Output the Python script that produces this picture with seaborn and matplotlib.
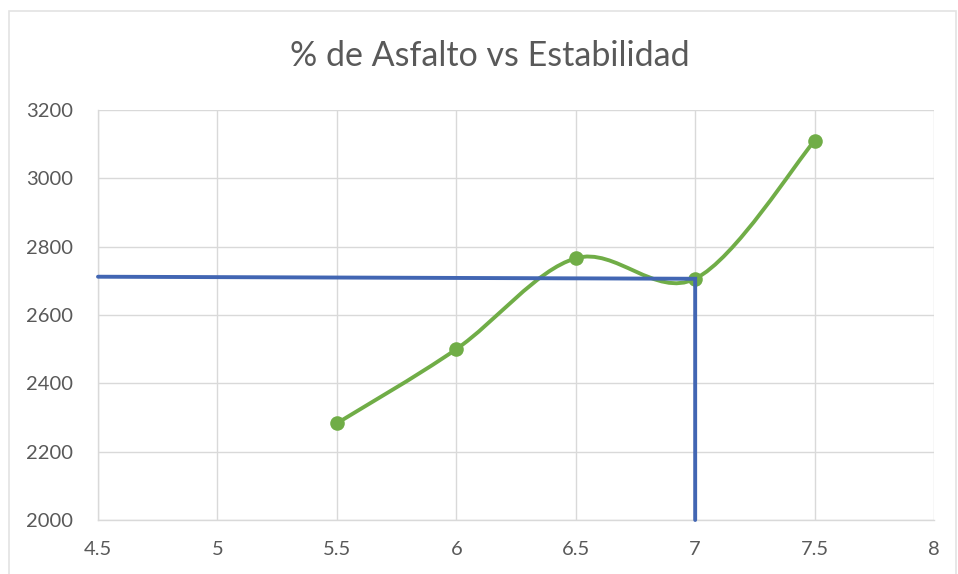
import numpy as np
import matplotlib
matplotlib.use("Agg")
import matplotlib.pyplot as plt
from matplotlib.path import Path
from matplotlib.patches import PathPatch, Rectangle
import seaborn as sns
import pandas as pd

# Asphalt content (%) and Marshall stability
asfalto = [5.5, 6.0, 6.5, 7.0, 7.5]
estabilidad = [2283, 2500, 2766, 2706, 3110]

# Design read-off lines: optimum asphalt content and its stability
guia_x = [4.5, 7.0, 7.0]
guia_y = [2712, 2706, 2000]

x_ticks = [4.5, 5, 5.5, 6, 6.5, 7, 7.5, 8]
x_labels = ["4.5", "5", "5.5", "6", "6.5", "7", "7.5", "8"]
y_ticks = [2000, 2200, 2400, 2600, 2800, 3000, 3200]

titulo = "% de Asfalto vs Estabilidad"

VERDE = "#70AD47"
AZUL = "#4266B3"
GRIS_TXT = "#595959"
GRIS_GRID = "#D9D9D9"

sns.set_theme(style="whitegrid")
plt.rcParams["font.family"] = ["Lato", "DejaVu Sans"]

fig = plt.figure(figsize=(9.58, 5.74), dpi=100)
ax = fig.add_axes([0.1023, 0.0941, 0.8727, 0.7143])

# light frame around the chart area
fig.patches.append(Rectangle((9 / 958, -0.05), 947 / 958, 1 - 11 / 574 + 0.05,
                             transform=fig.transFigure, fill=False,
                             edgecolor="#E3E3E3", linewidth=1.2, zorder=0))

# smoothed series line built as cubic Bezier segments (Catmull-Rom control points)
pts = np.column_stack([asfalto, estabilidad]).astype(float)
n = len(pts)
verts = [tuple(pts[0])]
codes = [Path.MOVETO]
for i in range(n - 1):
    p0 = pts[i - 1] if i > 0 else pts[i]
    p1 = pts[i]
    p2 = pts[i + 1]
    p3 = pts[i + 2] if i + 2 < n else pts[i + 1]
    c1 = p1 + (p2 - p0) / 6.0
    c2 = p2 - (p3 - p1) / 6.0
    verts += [tuple(c1), tuple(c2), tuple(p2)]
    codes += [Path.CURVE4, Path.CURVE4, Path.CURVE4]
ax.add_patch(PathPatch(Path(verts, codes), facecolor="none", edgecolor=VERDE,
                       linewidth=2.8, capstyle="round", zorder=3))

df = pd.DataFrame({"asfalto": asfalto, "estabilidad": estabilidad})
sns.scatterplot(data=df, x="asfalto", y="estabilidad", ax=ax, color=VERDE,
                s=110, edgecolor=VERDE, linewidth=0, zorder=4, legend=False)

guia = pd.DataFrame({"x": guia_x, "y": guia_y})
ax.plot(guia["x"], guia["y"], color=AZUL, linewidth=2.8, zorder=5,
        solid_joinstyle="miter", clip_on=False)

ax.set_xlim(4.5, 8)
ax.set_ylim(2000, 3200)
ax.set_xticks(x_ticks)
ax.set_xticklabels(x_labels)
ax.set_yticks(y_ticks)
ax.set_xlabel("")
ax.set_ylabel("")

ax.grid(True, color=GRIS_GRID, linewidth=1.0)
for side in ["top", "right"]:
    ax.spines[side].set_visible(False)
ax.spines["left"].set_color(GRIS_GRID)
ax.spines["bottom"].set_color(GRIS_GRID)
ax.spines["left"].set_linewidth(1.0)
ax.spines["bottom"].set_linewidth(1.0)
ax.tick_params(axis="both", length=0, labelsize=14.5, colors=GRIS_TXT)
ax.tick_params(axis="y", pad=18)
ax.tick_params(axis="x", pad=15)
ax.set_facecolor("white")

fig.text(490 / 958, 1 - 56 / 574, titulo, ha="center", va="center",
         fontsize=24.5, color=GRIS_TXT)

fig.savefig("out.png", dpi=100, facecolor="white")
